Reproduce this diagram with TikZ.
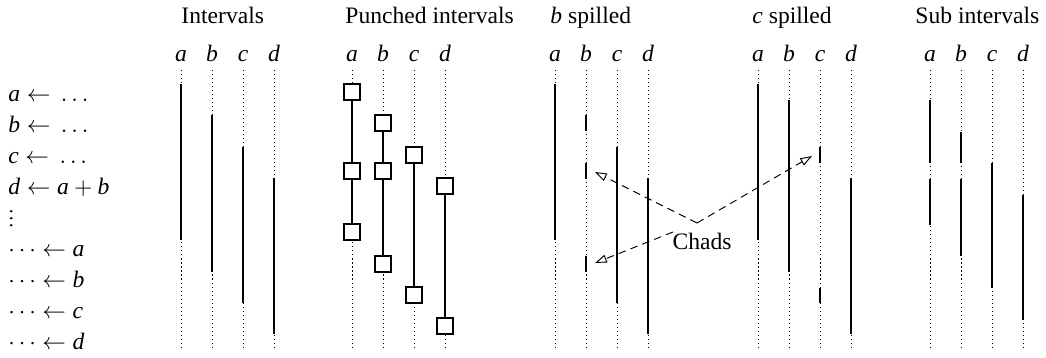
\documentclass[tikz,border=0pt]{standalone}
\usepackage{fontspec}
\setmainfont{Liberation Serif}
\usetikzlibrary{arrows.meta}
\begin{document}
\begin{tikzpicture}[x=0.424pt,y=-0.424pt,
  lbl/.style={inner sep=0pt, anchor=base west},
  colhead/.style={inner sep=0pt, anchor=base},
  track/.style={line width=0.42pt, dash pattern=on 0.45pt off 1.25pt},
  segm/.style={line width=0.848pt},
  punch/.style={draw, fill=white, minimum size=6.8pt, inner sep=0pt, line width=0.5pt},
  punchline/.style={line width=0.6pt},
  chadarrow/.style={line width=0.4pt, dash pattern=on 3.2pt off 2.2pt,
    -{Triangle[open,length=5pt,width=3.4pt]}}]
\useasboundingbox (0,0) rectangle (1046,358);

% code on the left
\node[lbl] (r0) at (8,101.7) {\textit{a}${}\leftarrow{}\ldots$};
\node[lbl] (r1) at (8,132.7) {\textit{b}${}\leftarrow{}\ldots$};
\node[lbl] (r2) at (8,163.7) {\textit{c}${}\leftarrow{}\ldots$};
\node[lbl] (r3) at (8,194.7) {\textit{d}${}\leftarrow{}$\textit{a}${}+{}$\textit{b}};
\node[lbl] (r4) at (8,226.5) {\scalebox{1}[0.72]{$\vdots$}};
\node[lbl] (r5) at (8,256.7) {$\cdots\leftarrow{}$\textit{a}};
\node[lbl] (r6) at (8,287.7) {$\cdots\leftarrow{}$\textit{b}};
\node[lbl] (r7) at (8,318.7) {$\cdots\leftarrow{}$\textit{c}};
\node[lbl] (r8) at (8,349.7) {$\cdots\leftarrow{}$\textit{d}};

% headers
\node[lbl] (h1) at (181,24) {Intervals};
\node[lbl] (h2) at (345,24) {Punched intervals};
\node[lbl] (h3) at (550,24) {\textit{b} spilled};
\node[lbl] (h4) at (752,24) {\textit{c} spilled};
\node[lbl] (h5) at (915,24) {Sub intervals};

% column letters and dotted tracks
\foreach \g in {181,352,555,758,930}{
  \foreach \l [count=\i from 0] in {a,b,c,d}{
    \node[colhead] at (\g+31*\i,62) {\textit{\l}};
    \draw[track] (\g+31*\i,70) -- (\g+31*\i,347);
  }
}

% Intervals
\draw[segm] (181,84) -- (181,240);
\draw[segm] (212,115) -- (212,272);
\draw[segm] (243,147) -- (243,303);
\draw[segm] (274,178) -- (274,334);

% Punched intervals
\node[punch] (pa1) at (352,92) {};
\node[punch] (pa2) at (352,171) {};
\node[punch] (pa3) at (352,232) {};
\node[punch] (pb1) at (383,123) {};
\node[punch] (pb2) at (383,171) {};
\node[punch] (pb3) at (383,264) {};
\node[punch] (pc1) at (414,155) {};
\node[punch] (pc2) at (414,295) {};
\node[punch] (pd1) at (445,186) {};
\node[punch] (pd2) at (445,326) {};
\draw[punchline] (pa1) -- (pa2) -- (pa3);
\draw[punchline] (pb1) -- (pb2) -- (pb3);
\draw[punchline] (pc1) -- (pc2);
\draw[punchline] (pd1) -- (pd2);

% b spilled
\draw[segm] (555,84) -- (555,240);
\draw[segm] (586,115) -- (586,131);
\draw[segm] (586,163) -- (586,179);
\draw[segm] (586,256) -- (586,272);
\draw[segm] (617,147) -- (617,303);
\draw[segm] (648,178) -- (648,334);

% c spilled
\draw[segm] (758,84) -- (758,240);
\draw[segm] (789,100) -- (789,272);
\draw[segm] (820,147) -- (820,163);
\draw[segm] (820,288) -- (820,303);
\draw[segm] (851,178) -- (851,334);

% Sub intervals
\draw[segm] (930,100) -- (930,163);
\draw[segm] (930,179) -- (930,225);
\draw[segm] (961,132) -- (961,163);
\draw[segm] (961,179) -- (961,256);
\draw[segm] (992,163) -- (992,288);
\draw[segm] (1023,195) -- (1023,320);

% Chads
\node[inner sep=0pt] (chads) at (702,241) {Chads};
\coordinate (ctop) at (697,223);
\coordinate (cleft) at (673,232);
\coordinate (tb1) at (595,172);
\coordinate (tb2) at (595,263);
\coordinate (tc1) at (812,156);
\draw[chadarrow] (ctop) -- (tb1);
\draw[chadarrow] (cleft) -- (tb2);
\draw[chadarrow] (ctop) -- (tc1);
\end{tikzpicture}
\end{document}
